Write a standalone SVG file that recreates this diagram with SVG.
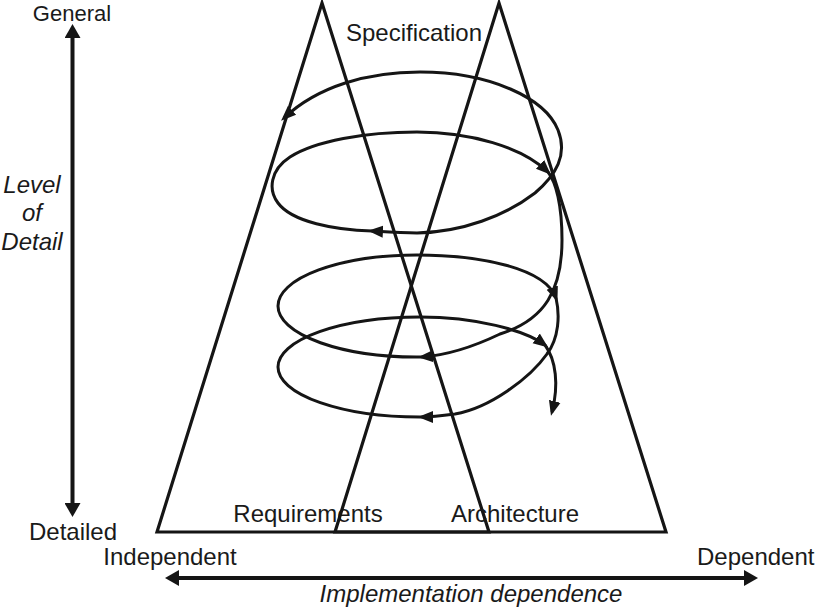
<svg xmlns="http://www.w3.org/2000/svg" width="816" height="608" viewBox="0 0 816 608">
<style>
.tri{fill:none;stroke:#151515;stroke-width:3.2;stroke-linejoin:miter}
.sp{fill:none;stroke:#151515;stroke-width:3;marker-end:url(#ah)}
.ax{fill:none;stroke:#151515;stroke-width:4;marker-start:url(#axh);marker-end:url(#axh)}
text{font-family:"Liberation Sans",Arial,sans-serif;font-size:24px;fill:#1a1a1a}
.it{font-style:italic}
</style>
<defs>
<marker id="ah" markerUnits="userSpaceOnUse" viewBox="0 0 15 14" markerWidth="15" markerHeight="14" refX="11" refY="7" orient="auto-start-reverse">
<path d="M0,1 L15,7 L0,13 z" fill="#151515"/>
</marker>
<marker id="axh" markerUnits="userSpaceOnUse" viewBox="0 0 14 16" markerWidth="14" markerHeight="16" refX="3" refY="8" orient="auto-start-reverse">
<path d="M0,0 L14,8 L0,16 z" fill="#151515"/>
</marker>
</defs>
<rect width="816" height="608" fill="#ffffff"/>
<g id="requirements-peak">
<polygon class="tri" points="322,3 489,532 157,532"/>
<text x="308" y="522" text-anchor="middle">Requirements</text>
</g>
<g id="architecture-peak">
<polygon class="tri" points="499,3 666,532 335,532"/>
<text x="515" y="522" text-anchor="middle">Architecture</text>
</g>
<g id="connectors">
<path class="sp" style="marker-start:url(#ah)" d="M284,118 C318,86 368,72 420,72 C490,72 545,98 558,130 C568,155 556,175 535,193 C505,216 462,232 417,233 C402,233 388,232 372,231"/>
<path class="sp" d="M372,231 C335,230 292,222 278,203 C268,190 270,170 290,157 C315,141 365,132 417,132 C470,132 522,147 548,172"/>
<path class="sp" d="M548,172 C556,182 562,205 562,240 C562,290 545,320 500,334 C475,346 450,355 422,357"/>
<path class="sp" d="M422,357 A139 51 0 0 1 278,306 A139 51 0 0 1 417,255 C480,255 545,268 556,298"/>
<path class="sp" d="M556,298 C560,315 559,338 547,354 C530,378 490,408 455,414 C440,416 430,417 422,417"/>
<path class="sp" d="M422,417 A142 50 0 0 1 278,367 A142 50 0 0 1 420,317 C475,317 525,330 545,345"/>
<path class="sp" d="M545,345 C556,360 559,385 552,412"/>
<line class="ax" x1="72.5" y1="35" x2="72.5" y2="506"/>
<line class="ax" x1="176" y1="578" x2="747" y2="578"/>
</g>
<g id="labels">
<text x="414" y="41" text-anchor="middle">Specification</text>
<text x="72" y="21" text-anchor="middle" style="font-size:22px">General</text>
<text x="73" y="540" text-anchor="middle">Detailed</text>
<text class="it" x="32" y="193" text-anchor="middle">Level</text>
<text class="it" x="32" y="221" text-anchor="middle">of</text>
<text class="it" x="32" y="250" text-anchor="middle">Detail</text>
<text x="170" y="565" text-anchor="middle">Independent</text>
<text x="697" y="565">Dependent</text>
<text class="it" x="471" y="602" text-anchor="middle">Implementation dependence</text>
</g>
</svg>
